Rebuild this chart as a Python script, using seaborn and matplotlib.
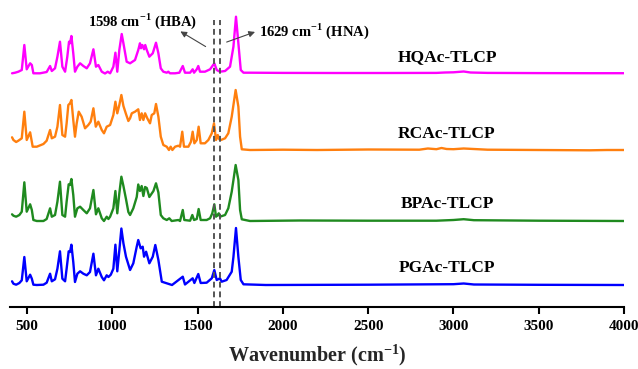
"""
FTIR spectra of the four TLCP samples, stacked with offsets
"""

import matplotlib.pyplot as plt
import seaborn as sns
import pandas as pd
import numpy as np

# ---- data (wavenumber in cm-1, intensity in a.u.) ----
hq_wn = [412, 430, 449, 469, 484, 498, 518, 528, 537, 576, 615, 635, 645, 664, 678, 693,
         707, 723, 736, 746, 752, 760, 771, 781, 795, 811, 830, 850, 869, 889, 904, 918,
         938, 957, 973, 987, 1006, 1018, 1029, 1041, 1055, 1065, 1084, 1104, 1133, 1152,
         1162, 1168, 1176, 1186, 1193, 1202, 1217, 1237, 1256, 1270, 1284, 1299, 1319,
         1328, 1338, 1368, 1393, 1413, 1426, 1456, 1471, 1479, 1495, 1504, 1514, 1543,
         1573, 1598, 1612, 1631, 1661, 1690, 1710, 1725, 1739, 1753, 1769, 1807, 2000,
         2300, 2600, 2900, 2950, 3000, 3060, 3100, 3200, 3500, 3800, 4000]
hq_int = [0.2, 0.8, 1.8, 3.5, 28.5, 4.2, 10.2, 8.5, 0.2, 0.2, 1.5, 7.5, 2.5, 5.2, 16.8, 31.8,
          6.8, 1.8, 16.8, 31.8, 30.2, 37.5, 20.2, 1.8, 6.8, 10.2, 7.5, 5.2, 10.2, 24.2, 6.8, 8.5,
          1.8, 0.0, 1.8, 0.2, 6.8, 20.8, 1.8, 23.5, 39.5, 30.2, 11.8, 10.2, 13.5, 23.5,
          30.2, 25.2, 28.5, 24.2, 28.5, 23.5, 16.8, 20.2, 30.8, 20.2, 5.2, 1.8, 0.8,
          1.8, 0.2, 0.2, 0.8, 7.5, 0.8, 0.8, 4.2, 0.8, 4.2, 7.5, 1.8, 1.8,
          4.2, 10.2, 3.5, 1.8, 2.5, 6.8, 26.8, 56.8, 30.2, 3.5, 0.8, 0.8, 0.6,
          0.5, 0.5, 0.6, 1.0, 1.2, 2.0, 1.0, 0.6, 0.4, 0.3, 0.3]

rc_wn = [412, 420, 436, 449, 469, 484, 498, 518, 533, 557, 596, 615, 635, 645, 664, 678,
         693, 707, 723, 732, 742, 752, 760, 771, 781, 791, 803, 820, 840, 859, 873, 889,
         903, 918, 938, 951, 967, 987, 1006, 1018, 1029, 1041, 1053, 1065, 1080, 1094,
         1104, 1114, 1133, 1152, 1162, 1172, 1182, 1192, 1205, 1221, 1231, 1246, 1256,
         1270, 1284, 1299, 1319, 1332, 1342, 1352, 1368, 1387, 1397, 1410, 1420, 1446,
         1461, 1471, 1481, 1495, 1506, 1518, 1543, 1563, 1583, 1596, 1608, 1618, 1627,
         1637, 1661, 1680, 1700, 1723, 1739, 1749, 1759, 1807, 2000, 2200, 2500, 2800,
         2850, 2900, 2930, 2960, 3000, 3060, 3200, 3500, 3800, 3900, 4000]
rc_int = [12.7, 10.0, 8.0, 9.3, 11.7, 38.3, 10.0, 17.7, 3.3, 3.3, 6.0, 9.3, 20.0, 11.7, 13.3, 23.3,
          45.0, 15.0, 13.3, 26.7, 45.0, 46.7, 50.0, 30.0, 13.3, 26.7, 38.3, 33.3, 21.7, 25.0, 28.3, 41.7,
          23.3, 28.3, 20.0, 16.7, 23.3, 25.0, 35.0, 48.3, 36.7, 45.0, 55.0, 44.0, 36.0, 29.0,
          31.7, 36.7, 38.3, 40.7, 30.0, 36.7, 30.0, 36.7, 31.7, 26.7, 35.0, 36.7, 46.0,
          33.3, 13.3, 5.0, 3.3, 0.0, 3.3, 0.0, 3.3, 4.3, 3.3, 18.3, 3.3, 3.3,
          8.3, 18.3, 6.7, 10.0, 23.3, 6.7, 6.7, 10.0, 16.7, 26.7, 10.0, 15.0, 10.7,
          10.0, 11.7, 16.7, 33.3, 60.0, 43.3, 13.3, 0.7, 0.0, 0.3, 0.0, 0.5, 0.3,
          1.5, 0.8, 2.0, 1.0, 0.8, 1.5, 0.3, 0.0, -0.3, 0.0, 0.0]

bp_wn = [412, 420, 436, 455, 469, 484, 498, 518, 528, 537, 557, 596, 615, 635, 645, 664,
         678, 693, 707, 723, 732, 744, 752, 760, 771, 781, 795, 811, 830, 850, 869, 889,
         904, 918, 938, 951, 967, 977, 987, 1006, 1018, 1029, 1041, 1053, 1065, 1080,
         1094, 1104, 1123, 1143, 1152, 1162, 1172, 1182, 1192, 1202, 1217, 1241, 1256,
         1270, 1284, 1299, 1319, 1334, 1348, 1387, 1397, 1413, 1422, 1456, 1469, 1479,
         1495, 1506, 1518, 1553, 1573, 1586, 1598, 1608, 1618, 1624, 1631, 1661, 1680,
         1700, 1723, 1739, 1749, 1759, 1807, 2100, 2500, 2900, 3000, 3060, 3120, 3500, 4000]
bp_int = [6.7, 5.3, 4.3, 6.0, 9.3, 38.7, 9.3, 16.7, 11.0, 1.0, 0.0, 0.0, 2.0, 12.7, 4.3, 6.0,
          19.3, 39.3, 6.0, 4.3, 19.3, 36.7, 36.0, 42.0, 26.0, 4.3, 12.7, 14.3, 11.0, 7.7, 12.7, 31.0,
          6.7, 12.7, 2.7, 0.0, 4.3, 2.0, 4.3, 12.7, 30.0, 7.7, 27.7, 44.3, 35.0, 22.0,
          9.0, 6.0, 12.7, 24.0, 36.5, 30.0, 35.0, 25.0, 34.0, 33.0, 24.0, 30.0, 37.7,
          28.5, 6.0, 2.7, 1.0, 2.7, 0.0, 1.0, 0.0, 11.0, 1.0, 0.3, 6.0, 1.0,
          2.0, 12.0, 1.0, 1.0, 2.7, 7.7, 16.7, 4.3, 6.0, 7.7, 4.3, 6.0, 12.7,
          29.3, 56.0, 41.0, 11.0, 1.7, 0.0, 0.5, 0.3, 0.3, 1.0, 1.8, 0.8, 0.3, 0.0]

pg_wn = [412, 420, 436, 455, 469, 484, 498, 518, 528, 537, 557, 596, 615, 635, 645, 664,
         678, 693, 707, 723, 732, 744, 752, 760, 771, 781, 795, 811, 830, 850, 869, 889,
         904, 918, 938, 951, 967, 977, 991, 1006, 1018, 1029, 1041, 1053, 1065, 1080,
         1104, 1123, 1143, 1152, 1166, 1178, 1186, 1198, 1217, 1237, 1252, 1270, 1290,
         1319, 1350, 1413, 1426, 1471, 1481, 1504, 1518, 1553, 1583, 1598, 1612, 1631,
         1641, 1670, 1700, 1710, 1725, 1739, 1753, 1769, 1900, 2500, 3000, 3060, 3120,
         3500, 4000]
pg_int = [3.7, 1.3, 0.3, 2.0, 4.7, 28.0, 3.7, 10.3, 6.3, 0.3, 0.0, 0.3, 2.3, 11.3, 3.7, 5.7,
          16.3, 33.7, 6.3, 3.7, 16.3, 33.7, 33.0, 40.3, 23.0, 3.0, 11.3, 13.7, 11.3, 9.7, 13.0, 31.3,
          9.7, 16.3, 8.0, 4.7, 9.7, 8.0, 10.3, 16.3, 40.3, 13.7, 34.7, 56.5, 41.7, 28.3,
          15.0, 21.7, 38.3, 45.0, 36.7, 38.3, 28.3, 33.3, 21.7, 28.3, 40.0, 25.0, 3.3,
          1.7, 0.0, 8.3, 0.5, 6.7, 2.0, 11.0, 2.0, 2.3, 6.7, 15.0, 5.0, 6.7,
          3.3, 5.0, 13.3, 28.0, 57.0, 28.0, 5.0, 0.7, 0.0, 0.3, 0.8, 1.5, 0.5,
          0.2, 0.0]

sample_names = ['HQAc-TLCP', 'RCAc-TLCP', 'BPAc-TLCP', 'PGAc-TLCP']
marker_wn = [1598, 1629]
marker_labels = ['1598 cm$^{\\mathbf{-1}}$ (HBA)', '1629 cm$^{\\mathbf{-1}}$ (HNA)']
tick_values = [500, 1000, 1500, 2000, 2500, 3000, 3500, 4000]

# ---- styling ----
colors = ['#ff00ff', '#ff7f0e', '#1f8a1f', '#0000ff']
offsets = [233.5, 157, 86, 22]

sns.set_theme(style='white')
plt.rcParams['font.family'] = ['Liberation Serif', 'DejaVu Serif']
plt.rcParams['font.weight'] = 'bold'
plt.rcParams['mathtext.fontset'] = 'custom'
plt.rcParams['mathtext.rm'] = 'Liberation Serif:bold'
plt.rcParams['mathtext.bf'] = 'Liberation Serif:bold'

fig = plt.figure(figsize=(6.38, 3.69), dpi=100)
ax = fig.add_axes([10 / 638, 62 / 369, 614 / 638, 302 / 369])

spectra = [(hq_wn, hq_int), (rc_wn, rc_int), (bp_wn, bp_int), (pg_wn, pg_int)]
frames = []
for name, (wn, inten), off in zip(sample_names, spectra, offsets):
    frames.append(pd.DataFrame({'wn': wn, 'y': np.array(inten) + off, 'sample': name}))
df = pd.concat(frames, ignore_index=True)

sns.lineplot(data=df, x='wn', y='y', hue='sample', palette=colors,
             estimator=None, sort=False, lw=1.7, legend=False, ax=ax)

# sample labels on the right
for name, off in zip(sample_names, offsets):
    ax.text(2962, off + 16.5, name, ha='center', va='center', fontsize=12.5,
            fontweight='bold', color='black')

# dashed marker lines
ax.vlines(marker_wn, 0, 287, colors='#555555', linestyles=(0, (3, 2)), lw=1.4)

# annotations
ax.text(1180, 286, marker_labels[0], ha='center', va='center', fontsize=10.5,
        fontweight='bold', color='black')
ax.annotate('', xy=(1385, 277), xytext=(1561, 259),
            arrowprops=dict(arrowstyle='-|>', color='#444444', lw=0.8, mutation_scale=9))
ax.text(1862, 276, marker_labels[1], ha='left', va='center', fontsize=10.5,
        fontweight='bold', color='black')
ax.annotate('', xy=(1852, 276), xytext=(1655, 264),
            arrowprops=dict(arrowstyle='-|>', color='#444444', lw=0.8, mutation_scale=9))

ax.set_xlim(400, 4000)
ax.set_ylim(0, 302)
ax.set_xticks(tick_values)
ax.set_yticks([])
ax.set_ylabel('')
ax.set_xlabel('Wavenumber (cm$^{\\mathbf{-1}}$)', fontsize=14.5, fontweight='bold', labelpad=7)

for side in ['top', 'left', 'right']:
    ax.spines[side].set_visible(False)
ax.spines['bottom'].set_color('black')
ax.spines['bottom'].set_linewidth(1.5)
ax.tick_params(axis='x', direction='out', length=5, width=1.5, labelsize=11,
               bottom=True, colors='black', pad=4)

plt.savefig('out.png', dpi=100)
plt.close()
